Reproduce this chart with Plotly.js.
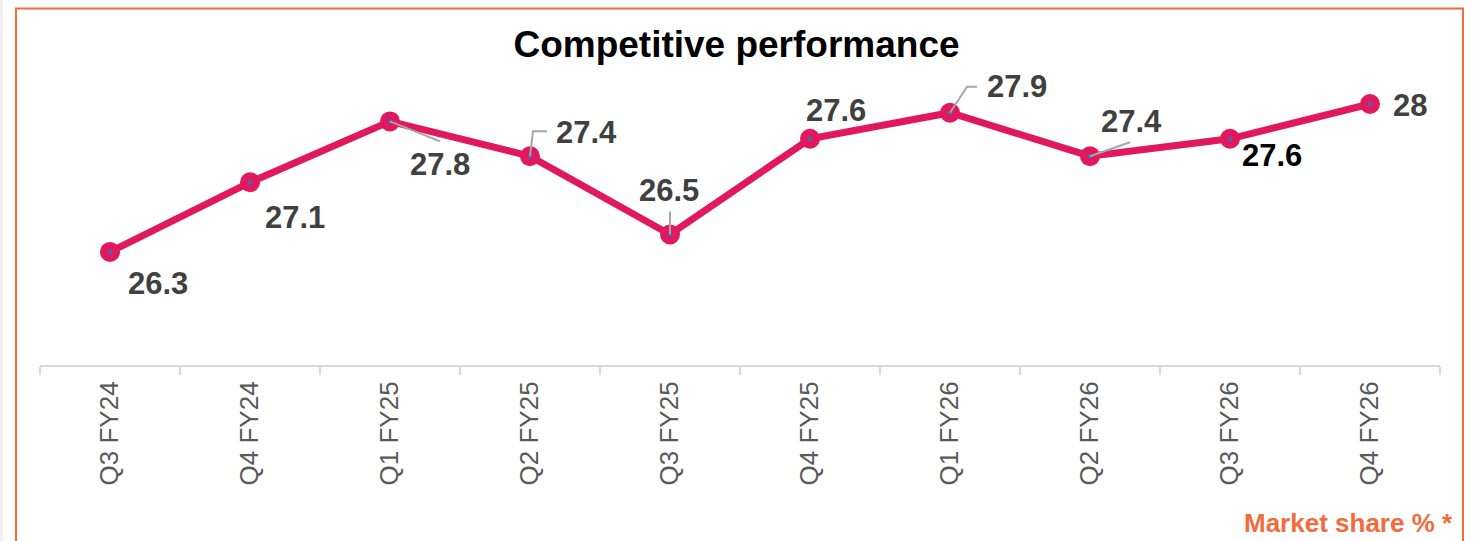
<!DOCTYPE html>
<html>
<head>
<meta charset="utf-8">
<script src="https://cdn.plot.ly/plotly-3.0.1.min.js"></script>
<style>html,body{margin:0;padding:0;background:#fff;}#chart{width:1473px;height:541px;}</style>
</head>
<body>
<div id="chart"></div>
<script>
// ---- data ----
var quarters = ["Q3 FY24","Q4 FY24","Q1 FY25","Q2 FY25","Q3 FY25","Q4 FY25","Q1 FY26","Q2 FY26","Q3 FY26","Q4 FY26"];
var marketShare = [26.3, 27.1, 27.8, 27.4, 26.5, 27.6, 27.9, 27.4, 27.6, 28];
var valueLabels = ["26.3","27.1","27.8","27.4","26.5","27.6","27.9","27.4","27.6","28"];
var chartTitle = "Competitive performance";
var footnote = "Market share % *";

// ---- styles (label offsets in pixels, relative to each point) ----
var labelShiftX = [48, 45, 50, 56, -1, 26, 67, 41, 42, 40];
var labelShiftY = [-32, -35, -43, 24, 44, 28, 26, 35, -17, -1];
var labelColors = ["#404040","#404040","#404040","#404040","#404040","#404040","#404040","#404040","#000000","#404040"];
// leader line paths (pixel offsets, y up), null = no leader
var leaderPaths = [null, null, "M0,0 L50,-20", "M0,0 L3,25 L17,25", "M0,0 L0,23", null, "M0,0 L17,26 L27,26", "M0,0 L40,14", null, null];

var pink = "#E2185F";
var orange = "#F26B3A";
var font = "Arial, 'Liberation Sans', sans-serif";

var traces = [
  {
    x: quarters, y: marketShare, type: "scatter", mode: "lines+markers",
    line: {color: pink, width: 7},
    marker: {color: pink, size: 20},
    hoverinfo: "skip", showlegend: false
  }
];

var shapes = [
  {type: "rect", xref: "paper", yref: "paper", x0: -40/1400, x1: -37/1400, y0: -0.6, y1: 1.2,
   fillcolor: "#efefef", line: {width: 0}, layer: "below"},
  {type: "rect", xref: "paper", yref: "paper", x0: -0.01714, x1: 1.01643, y0: -0.6, y1: 1.0244,
   fillcolor: "rgba(0,0,0,0)", line: {color: orange, width: 2}, layer: "below"}
];
var annotations = [];
for (var i = 0; i < quarters.length; i++) {
  if (leaderPaths[i]) {
    shapes.push({type: "path", xref: "x", yref: "y", xsizemode: "pixel", ysizemode: "pixel",
      xanchor: i, yanchor: marketShare[i], path: leaderPaths[i],
      line: {color: "#A6A6A6", width: 2}, layer: "above"});
  }
  annotations.push({
    x: i, y: marketShare[i], xref: "x", yref: "y", text: valueLabels[i], showarrow: false,
    xshift: labelShiftX[i], yshift: labelShiftY[i], xanchor: "center", yanchor: "middle",
    font: {family: font, size: 31, weight: "bold", color: labelColors[i]}
  });
}
// small center dots on markers
traces.push({
  x: quarters, y: marketShare, type: "scatter", mode: "markers",
  marker: {color: "#6159A6", size: 5}, hoverinfo: "skip", showlegend: false
});

annotations.push({
  xref: "paper", yref: "paper", x: 1.0107, y: -0.454, xanchor: "right", yanchor: "middle",
  text: footnote, showarrow: false,
  font: {family: font, size: 26, weight: "bold", color: orange}
});

var layout = {
  width: 1473, height: 541,
  margin: {l: 40, r: 33, t: 17, b: 176, pad: 0},
  paper_bgcolor: "#ffffff", plot_bgcolor: "#ffffff",
  title: {text: chartTitle, x: 0.5, xref: "container", xanchor: "center",
          y: 1 - 44/541, yref: "container", yanchor: "middle",
          font: {family: font, size: 37, weight: "bold", color: "#000000"}},
  xaxis: {
    type: "category", range: [-0.5, 9.5], fixedrange: true,
    showline: true, linecolor: "#D9D9D9", linewidth: 2,
    ticks: "outside", tickson: "boundaries", ticklen: 8, tickcolor: "#D9D9D9", tickwidth: 2,
    ticklabelstandoff: 4,
    showgrid: false, zeroline: false, tickangle: -90, automargin: false,
    tickfont: {family: font, size: 26, color: "#595959"}
  },
  yaxis: {
    range: [25, 29], visible: false, showgrid: false, zeroline: false, fixedrange: true
  },
  shapes: shapes,
  annotations: annotations,
  showlegend: false
};

Plotly.newPlot("chart", traces, layout, {displayModeBar: false, staticPlot: true});
</script>
</body>
</html>
